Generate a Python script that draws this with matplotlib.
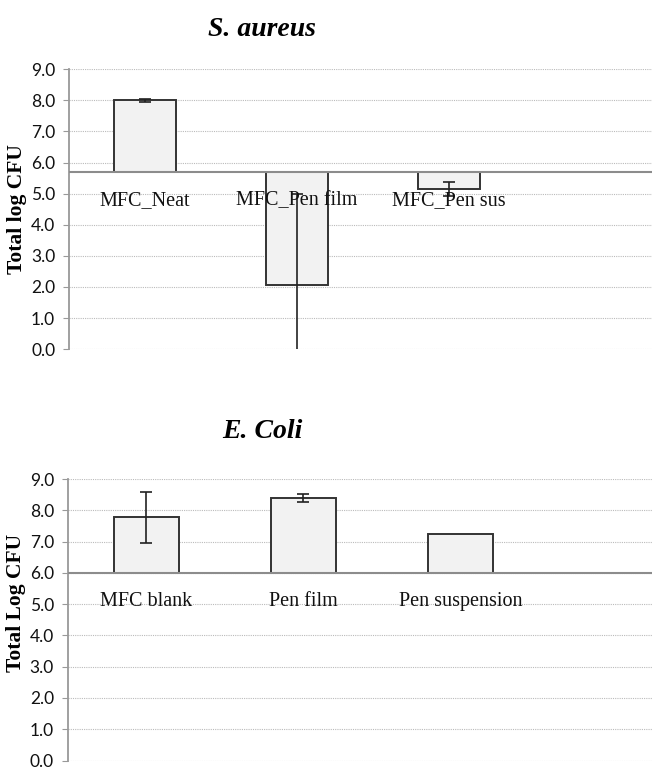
import matplotlib
matplotlib.use("Agg")
import matplotlib.pyplot as plt
import numpy as np

# S. aureus data (bars hang from a 5.7 baseline)
sa_labels = ["MFC_Neat", "MFC_Pen film", "MFC_Pen sus"]
sa_values = [8.0, 2.05, 5.15]
sa_errors = [0.05, 2.95, 0.22]
sa_base = 5.7

# E. Coli data (bars start at 6.0)
ec_labels = ["MFC blank", "Pen film", "Pen suspension"]
ec_values = [7.78, 8.40, 7.25]
ec_errors = [0.81, 0.12, 0.0]
ec_base = 6.0

yticks = np.arange(0, 9.1, 1.0)

fig = plt.figure(figsize=(6.52, 7.69), dpi=100)
ax1 = fig.add_axes([0.106, 0.546, 0.894, 0.364])
ax2 = fig.add_axes([0.104, 0.011, 0.896, 0.366])


def draw(ax, labels, values, errors, base, xmax, ylabel, ylab_y):
    x = np.arange(len(labels))
    heights = [v - base for v in values]
    ax.bar(x, heights, bottom=base, width=0.41, color="#f2f2f2",
           edgecolor="#333333", linewidth=1.4, zorder=3)
    for xi, v, e in zip(x, values, errors):
        if e > 0:
            ax.errorbar(xi, v, yerr=e, fmt="none", ecolor="#222222",
                        elinewidth=1.2, capsize=4, capthick=1.2, zorder=4)
    ax.axhline(base, color="#8c8c8c", linewidth=1.5, zorder=5)
    for xi, lab in zip(x, labels):
        ax.annotate(lab, (xi, base), xytext=(0, -29), textcoords="offset pixels",
                    ha="center", va="center", fontsize=14.5,
                    family="Liberation Serif", color="#111111", zorder=6)
    ax.set_ylim(0, 9)
    ax.set_xlim(-0.5, xmax)
    ax.set_yticks(yticks)
    ax.set_yticklabels(["%.1f" % t for t in yticks], fontsize=12.5, family="Lato")
    ax.set_xticks([])
    ax.yaxis.grid(True, linestyle=(0, (1, 1)), color="#bbbbbb", linewidth=0.8, zorder=0)
    for s in ["top", "right", "bottom"]:
        ax.spines[s].set_visible(False)
    ax.spines["left"].set_color("#999999")
    ax.spines["left"].set_linewidth(1.3)
    ax.tick_params(axis="y", length=4, color="#999999", pad=6, labelcolor="#111111")
    ax.set_ylabel(ylabel, fontsize=15.5, fontweight="bold", family="Liberation Serif")
    ax.yaxis.set_label_coords(-0.072, ylab_y)


draw(ax1, sa_labels, sa_values, sa_errors, sa_base, 3.335, "Total log CFU", 0.5)
draw(ax2, ec_labels, ec_values, ec_errors, ec_base, 3.22, "Total Log CFU", 0.56)

fig.text(262 / 652, 1 - 30 / 769, "S. aureus", ha="center", va="center",
         fontsize=20, fontweight="bold", style="italic", family="Liberation Serif")
fig.text(262 / 652, 1 - 432 / 769, "E. Coli", ha="center", va="center",
         fontsize=20, fontweight="bold", style="italic", family="Liberation Serif")

fig.savefig("out.png", dpi=100)
